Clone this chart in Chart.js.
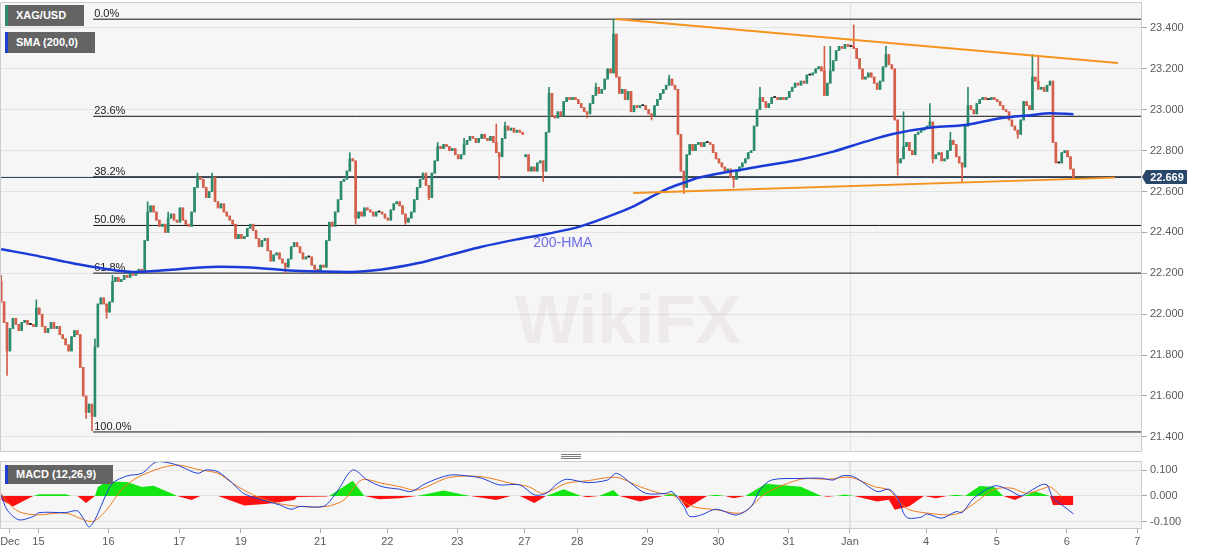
<!DOCTYPE html>
<html><head><meta charset="utf-8">
<script src="https://cdn.jsdelivr.net/npm/chart.js@4.4.0/dist/chart.umd.min.js"></script>
<style>
html,body{margin:0;padding:0;background:#fff;width:1207px;height:555px;overflow:hidden;font-family:"Liberation Sans",Arial,sans-serif;}
#wrap{position:relative;width:1207px;height:555px;}
#c1{position:absolute;left:0;top:0;}
#c2{position:absolute;left:0;top:455px;}
.tag{position:absolute;background:#646464;color:#fff;font:bold 11px "Liberation Sans",Arial,sans-serif;box-sizing:border-box;padding-left:8px;border-left:3px solid;white-space:nowrap;}
.handle{position:absolute;left:561px;width:20px;height:1px;background:#7a7a7a;}
.wm{position:absolute;left:515px;top:280px;font:bold 68px "Liberation Sans",Arial,sans-serif;color:rgba(170,135,135,0.11);pointer-events:none;}
</style>
</head><body>
<div id="wrap">
<canvas id="c1" width="1207" height="455"></canvas>
<canvas id="c2" width="1207" height="100"></canvas>
<div class="tag" style="left:5px;top:5px;width:79px;height:21px;line-height:21px;border-color:#2e8b6e;">XAG/USD</div>
<div class="tag" style="left:5px;top:32px;width:90px;height:21px;line-height:21px;border-color:#1f3fcf;">SMA (200,0)</div>
<div class="tag" style="left:5px;top:465px;width:108px;height:19px;line-height:19px;border-color:#1f3fcf;">MACD (12,26,9)</div>
<div class="handle" style="top:454px"></div>
<div class="handle" style="top:456px"></div>
<div class="handle" style="top:458px"></div>
<div class="wm">WikiFX</div>
</div>
<script>
// ---------- DATA ----------
// hourly closes, candle index 0..366
const closes = [
22.06,21.96,21.82,21.93,21.98,21.95,21.92,21.96,21.97,21.95,
21.95,21.94,22.03,22.00,21.94,21.91,21.93,21.96,21.93,21.94,
21.90,21.88,21.85,21.82,21.89,21.92,21.90,21.74,21.60,21.52,
21.56,21.50,21.84,22.05,22.08,22.05,22.01,22.06,22.16,22.18,
22.16,22.17,22.19,22.18,22.20,22.19,22.21,22.22,22.21,22.36,
22.50,22.53,22.50,22.46,22.43,22.44,22.40,22.47,22.49,22.46,
22.45,22.52,22.46,22.44,22.43,22.50,22.62,22.67,22.66,22.62,
22.57,22.60,22.67,22.55,22.52,22.54,22.50,22.48,22.46,22.44,
22.37,22.39,22.37,22.38,22.42,22.44,22.41,22.37,22.33,22.36,
22.37,22.31,22.26,22.29,22.30,22.27,22.25,22.23,22.27,22.33,
22.35,22.33,22.30,22.27,22.28,22.28,22.24,22.22,22.21,22.24,
22.23,22.36,22.45,22.43,22.50,22.56,22.65,22.66,22.70,22.76,
22.75,22.47,22.50,22.48,22.52,22.51,22.50,22.48,22.50,22.50,
22.49,22.47,22.46,22.51,22.54,22.55,22.53,22.49,22.45,22.47,
22.50,22.56,22.62,22.66,22.69,22.63,22.57,22.69,22.75,22.82,
22.81,22.83,22.82,22.80,22.81,22.78,22.76,22.78,22.83,22.85,
22.87,22.86,22.84,22.86,22.88,22.86,22.85,22.87,22.84,22.79,
22.77,22.86,22.92,22.90,22.91,22.89,22.90,22.89,22.88,22.78,
22.70,22.72,22.70,22.74,22.75,22.70,22.89,23.08,22.97,22.96,
22.99,22.97,23.04,23.06,23.05,23.06,23.05,23.03,23.01,22.99,
22.98,23.03,23.07,23.11,23.08,23.10,23.15,23.20,23.18,23.37,
23.16,23.08,23.10,23.05,23.09,22.99,23.02,23.01,23.02,23.02,
23.00,22.98,22.97,23.02,23.05,23.08,23.10,23.12,23.15,23.12,
23.10,22.88,22.70,22.62,22.78,22.83,22.80,22.83,22.84,22.82,
22.84,22.84,22.83,22.79,22.76,22.74,22.72,22.70,22.71,22.67,
22.66,22.70,22.72,22.74,22.76,22.79,22.80,22.92,23.00,23.06,
23.04,23.01,23.03,23.06,23.06,23.05,23.06,23.05,23.06,23.09,
23.11,23.13,23.12,23.14,23.13,23.17,23.17,23.18,23.20,23.21,
23.19,23.07,23.13,23.19,23.24,23.29,23.31,23.30,23.32,23.31,
23.31,23.30,23.25,23.20,23.15,23.16,23.18,23.16,23.13,23.10,
23.14,23.21,23.27,23.22,23.20,22.95,22.74,22.76,22.82,22.84,
22.80,22.78,22.88,22.89,22.90,22.91,22.92,22.94,22.76,22.78,
22.79,22.75,22.76,22.80,22.85,22.83,22.77,22.74,22.72,22.92,
23.02,23.00,22.98,23.03,23.05,23.06,23.05,23.05,23.06,23.05,
23.04,23.02,23.00,22.99,22.95,22.92,22.90,22.88,22.95,23.04,
23.02,23.00,23.16,23.14,23.10,23.11,23.09,23.12,23.14,22.84,
22.74,22.74,22.79,22.80,22.77,22.71,22.669
];
const firstOpen = 22.16;
const openGaps = [[179, 22.77]];           // [candle, open] after the holiday gap
const highWicks = [[0,22.19],[12,22.07],[32,21.88],[38,22.19],[50,22.55],[57,22.50],[67,22.69],[72,22.69],[119,22.79],[149,22.84],[158,22.86],[169,22.93],[172,22.94],[187,23.11],[203,23.13],[209,23.44],[228,23.17],[259,23.11],[281,23.31],[283,23.31],[291,23.415],[302,23.31],[308,22.99],[317,23.03],[324,22.89],[330,23.11],[352,23.27],[354,23.26]];
const lowWicks = [[2,21.70],[29,21.49],[31,21.43],[36,21.98],[97,22.20],[108,22.20],[121,22.44],[138,22.44],[146,22.56],[170,22.66],[185,22.65],[200,22.96],[222,22.95],[233,22.59],[250,22.62],[306,22.68],[318,22.74],[328,22.65],[347,22.86]];

// 200-period moving average (200-HMA)
const smaIdx  = [0,11,22,31,45,57,74,85,102,119,130,142,153,164,176,187,198,210,216,221,227,233,238,255,272,284,295,304,318,329,341,352,358,366];
const smaVals = [22.318,22.289,22.256,22.232,22.207,22.216,22.232,22.229,22.211,22.207,22.219,22.249,22.289,22.330,22.366,22.395,22.431,22.493,22.529,22.567,22.611,22.643,22.667,22.713,22.754,22.795,22.844,22.880,22.914,22.925,22.958,22.974,22.983,22.978];

// Fibonacci retracement levels
const fibLabels = ['0.0%','23.6%','38.2%','50.0%','61.8%','100.0%'];
const fibPrices = [23.443,22.968,22.672,22.434,22.201,21.424];
const fibStartIdx = 31.4;

// trend lines (candle index, price)
const upperTrendIdx = [209.6, 381.2];
const upperTrendPx  = [23.444, 23.229];
const lowerTrendIdx = [215.7, 380.2];
const lowerTrendPx  = [22.593, 22.668];

const currentPrice = 22.669;
const hmaLabel = '200-HMA';
const hmaLabelIdx = 181.6, hmaLabelPx = 22.348;

// price axis ticks
const priceTicks = [21.4,21.6,21.8,22.0,22.2,22.4,22.6,22.8,23.0,23.2,23.4];

// MACD (12,26,9)
const macdIdx  = [0,2,6,11,13,22,26,28,30,32,35,38,43,48,53,58,61,67,70,74,79,83,91,95,99,102,108,111,115,120,125,130,136,140,145,153,159,164,170,177,182,186,190,193,200,207,210,215,220,227,229,233,235,239,244,251,256,259,263,273,280,284,287,291,299,303,306,309,314,316,321,326,328,332,339,344,348,351,355,357,359,362,366];
const macdVals = [0.004,-0.054,-0.093,-0.080,-0.065,-0.065,-0.058,-0.087,-0.121,-0.093,-0.016,0.049,0.078,0.088,0.133,0.127,0.116,0.088,0.101,0.094,0.049,0.008,-0.022,-0.035,-0.052,-0.041,-0.044,-0.035,0.023,0.101,0.062,0.036,0.026,0.017,0.049,0.081,0.078,0.069,0.043,0.043,0.004,0.010,0.049,0.065,0.052,0.062,0.088,0.049,0.010,0.010,0.017,-0.041,-0.080,-0.074,-0.052,-0.074,-0.041,0.023,0.062,0.068,0.069,0.062,0.078,0.075,0.017,0.026,-0.009,-0.083,-0.083,-0.070,-0.087,-0.061,-0.065,-0.009,0.039,0.023,0.000,0.017,0.043,0.043,-0.009,-0.035,-0.070];
const signalIdx  = [0,2,6,12,22,31,36,41,47,59,68,74,79,86,94,102,111,117,123,130,136,142,153,164,174,180,185,193,200,210,218,225,229,236,244,253,261,273,282,290,298,303,307,310,316,323,327,333,339,345,350,356,358,362];
const signalVals = [0.010,-0.022,-0.061,-0.074,-0.067,-0.100,-0.054,0.023,0.075,0.120,0.101,0.088,0.049,0.004,-0.028,-0.041,-0.041,-0.016,0.062,0.049,0.036,0.023,0.072,0.075,0.049,0.036,0.010,0.049,0.059,0.072,0.036,0.010,0.004,-0.041,-0.054,-0.065,0.010,0.065,0.065,0.072,0.036,0.023,-0.028,-0.054,-0.067,-0.074,-0.067,-0.022,0.026,0.030,0.010,0.030,0.036,-0.003];
const histIdx  = [0,4,11,13,22,24,26,29,32,33,36,43,48,52,59,60,65,68,74,83,91,100,101,111,112,120,124,129,136,142,151,160,169,174,177,182,186,192,198,200,204,209,211,218,226,229,231,234,241,244,247,250,254,261,273,280,282,285,288,291,299,303,305,310,315,319,323,326,329,334,339,342,346,349,353,358,359,366];
const histVals = [-0.015,-0.041,0,0.006,0.006,0,0,-0.028,0,0.035,0.056,0.054,0.035,0.040,0.005,0,-0.016,0,0,-0.037,-0.031,-0.016,-0.004,-0.002,0,0.059,0,-0.013,-0.009,0,0.021,0,-0.016,0,0,-0.028,0,0.026,0,-0.005,0,0.023,0,-0.022,0,0.010,0,-0.048,0,0.004,0,-0.009,0,0.047,0.036,0,-0.003,0,0.005,0,-0.022,-0.015,-0.054,-0.040,0,-0.009,0,0.004,0,0.039,0.035,0,-0.016,0,0.017,0,-0.035,-0.035];
const macdTicks = [-0.1, 0, 0.1];

// date axis
const tickIdx    = [3,12.7,36.6,60.8,81.8,108.9,131.8,155.7,178.6,196.6,220.6,244.8,268.8,289.7,315.7,339.8,363.7,387.8];
const tickLabels = ['Dec','15','16','17','19','21','22','23','27','28','29','30','31','Jan','4','5','6','7'];

// ---------- CHART ----------
const FONT = '"Liberation Sans", Arial, sans-serif';
Chart.defaults.font.family = FONT;
const X_MIN = -0.4, X_MAX = 389.4;
const GREEN = '#2c8a6c', RED = '#d45f4a';

const opens = closes.map((c, i) => i === 0 ? firstOpen : closes[i - 1]);
openGaps.forEach(([i, v]) => { opens[i] = v; });
const highs = closes.map((c, i) => Math.max(c, opens[i]));
const lows  = closes.map((c, i) => Math.min(c, opens[i]));
highWicks.forEach(([i, v]) => { highs[i] = v; });
lowWicks.forEach(([i, v]) => { lows[i] = v; });
const candleColor = closes.map((c, i) => c > opens[i] ? GREEN : (c < opens[i] ? RED : '#111'));

const bodies = closes.map((c, i) => ({x: i, y: [Math.min(c, opens[i]), Math.max(c, opens[i])]}));
const wicks  = closes.map((c, i) => ({x: i, y: [lows[i], highs[i]]}));
const pts = (xs, ys) => xs.map((x, k) => ({x, y: ys[k]}));

const janIdx = tickIdx[tickLabels.indexOf('Jan')];

// keep the plot area exactly where the layout padding puts it
const noPadV = s => { s.width = 65; s.paddingTop = 0; s.paddingBottom = 0; };
const noPadH = s => { s.height = 26; s.paddingLeft = 0; s.paddingRight = 0; };

const panelPlugin = {
  id: 'panel',
  beforeDraw(chart) {
    const {ctx, chartArea: a} = chart;
    ctx.save();
    ctx.fillStyle = '#f6f6f6';
    ctx.fillRect(a.left, a.top, a.right - a.left, a.bottom - a.top);
    ctx.restore();
  },
  beforeDatasetsDraw(chart) {
    const {ctx, chartArea: a, scales} = chart;
    ctx.save();
    const jx = Math.round(scales.x.getPixelForValue(janIdx)) + 0.5;
    ctx.strokeStyle = '#e2e2e2'; ctx.lineWidth = 1;
    ctx.beginPath(); ctx.moveTo(jx, a.top); ctx.lineTo(jx, a.bottom); ctx.stroke();
    ctx.restore();
  },
  afterDraw(chart) {
    const {ctx, chartArea: a} = chart;
    ctx.save();
    ctx.strokeStyle = '#cdcdcd'; ctx.lineWidth = 1;
    ctx.strokeRect(a.left + 0.5, a.top + 0.5, a.right - a.left - 1, a.bottom - a.top - 1);
    ctx.restore();
  }
};

const mainLabels = {
  id: 'mainLabels',
  beforeDatasetsDraw(chart) {
    const {ctx, scales: {x, y}} = chart;
    ctx.save();
    ctx.font = '11px ' + FONT; ctx.fillStyle = '#222';
    ctx.textAlign = 'left'; ctx.textBaseline = 'alphabetic';
    const fx = x.getPixelForValue(fibStartIdx) + 1;
    fibPrices.forEach((p, k) => ctx.fillText(fibLabels[k], fx, y.getPixelForValue(p) - 2));
    ctx.restore();
  },
  afterDatasetsDraw(chart) {
    const {ctx, scales: {x, y}} = chart;
    ctx.save();
    ctx.font = '14px ' + FONT; ctx.fillStyle = '#6b6be6';
    ctx.textAlign = 'left'; ctx.textBaseline = 'middle';
    ctx.fillText(hmaLabel, x.getPixelForValue(hmaLabelIdx), y.getPixelForValue(hmaLabelPx));
    ctx.restore();
  },
  afterDraw(chart) {
    const {ctx, chartArea: a, scales: {y}} = chart;
    const py = Math.round(y.getPixelForValue(currentPrice));
    ctx.save();
    ctx.fillStyle = '#284769';
    ctx.beginPath();
    ctx.moveTo(a.right, py);
    ctx.lineTo(a.right + 4, py - 7);
    ctx.lineTo(a.right + 45, py - 7);
    ctx.lineTo(a.right + 45, py + 7);
    ctx.lineTo(a.right + 4, py + 7);
    ctx.closePath(); ctx.fill();
    ctx.fillStyle = '#fff'; ctx.font = 'bold 11px ' + FONT;
    ctx.textAlign = 'center'; ctx.textBaseline = 'middle';
    ctx.fillText(currentPrice.toFixed(3), a.right + 25, py + 0.5);
    ctx.restore();
  }
};

const lineDs = (data, color, width, order, extra) => Object.assign({
  type: 'line', data, borderColor: color, borderWidth: width, pointRadius: 0, fill: false, order
}, extra || {});

const mainDatasets = [];
fibPrices.forEach(p => mainDatasets.push(lineDs([{x: fibStartIdx, y: p}, {x: X_MAX, y: p}], '#111', 1, 10)));
mainDatasets.push(lineDs([{x: X_MIN, y: currentPrice}, {x: X_MAX, y: currentPrice}], '#1f3553', 1, 9));
mainDatasets.push({type: 'bar', data: wicks, backgroundColor: candleColor, grouped: false, maxBarThickness: 1,
  barPercentage: 1, categoryPercentage: 1, borderWidth: 0, order: 6});
mainDatasets.push({type: 'bar', data: bodies, backgroundColor: candleColor, grouped: false, maxBarThickness: 2,
  barPercentage: 1, categoryPercentage: 1, borderWidth: 0, minBarLength: 1, order: 5});
mainDatasets.push(lineDs(pts(smaIdx, smaVals), '#1b3bd6', 2.5, 3, {cubicInterpolationMode: 'monotone'}));
mainDatasets.push(lineDs(pts(upperTrendIdx, upperTrendPx), '#f5931f', 2, 1));
mainDatasets.push(lineDs(pts(lowerTrendIdx, lowerTrendPx), '#f5931f', 2, 1));

new Chart(document.getElementById('c1'), {
  type: 'bar',
  data: {datasets: mainDatasets},
  options: {
    responsive: false, animation: false, events: [],
    layout: {padding: {top: 2, bottom: 3, left: 0, right: 0}},
    plugins: {legend: {display: false}, tooltip: {enabled: false}},
    scales: {
      x: {type: 'linear', min: X_MIN, max: X_MAX, offset: false, display: false},
      y: {
        position: 'right', min: 21.326, max: 23.527, beginAtZero: false,
        afterBuildTicks: s => { s.ticks = priceTicks.map(v => ({value: v})); },
        afterFit: noPadV,
        ticks: {callback: v => Number(v).toFixed(3), color: '#5a5a5a', font: {size: 11}, padding: 3},
        grid: {color: '#e3e3e3', tickColor: '#aaa', tickLength: 5},
        border: {display: false}
      }
    }
  },
  plugins: [panelPlugin, mainLabels]
});

new Chart(document.getElementById('c2'), {
  type: 'line',
  data: {datasets: [
    {data: pts(histIdx, histVals), borderWidth: 0, pointRadius: 0, tension: 0,
     fill: {target: 'origin', above: '#14e414', below: '#ff1010'}, order: 3},
    {data: pts(macdIdx, macdVals), borderColor: '#2140d8', borderWidth: 1, pointRadius: 0, tension: 0.3, fill: false, order: 1},
    {data: pts(signalIdx, signalVals), borderColor: '#f07b1c', borderWidth: 1, pointRadius: 0, tension: 0.3, fill: false, order: 2}
  ]},
  options: {
    responsive: false, animation: false, events: [],
    layout: {padding: {top: 6, bottom: 0, left: 0, right: 0}},
    plugins: {legend: {display: false}, tooltip: {enabled: false}},
    scales: {
      x: {
        type: 'linear', min: X_MIN, max: X_MAX, offset: false,
        afterBuildTicks: s => { s.ticks = tickIdx.map(v => ({value: v})); },
        afterFit: noPadH,
        ticks: {autoSkip: false, maxRotation: 0, callback: (v, i) => tickLabels[i], color: '#5a5a5a', font: {size: 11}, padding: 2},
        grid: {color: c => (c.tick && c.tick.value === janIdx) ? '#e2e2e2' : 'rgba(0,0,0,0)', tickColor: '#aaa', tickLength: 4},
        border: {display: false}
      },
      y: {
        position: 'right', min: -0.129, max: 0.136,
        afterBuildTicks: s => { s.ticks = macdTicks.map(v => ({value: v})); },
        afterFit: noPadV,
        ticks: {callback: v => Number(v).toFixed(3), color: '#5a5a5a', font: {size: 11}, padding: 3},
        grid: {color: '#e3e3e3', tickColor: '#aaa', tickLength: 5},
        border: {display: false}
      }
    }
  },
  plugins: [panelPlugin]
});
</script>
</body></html>
